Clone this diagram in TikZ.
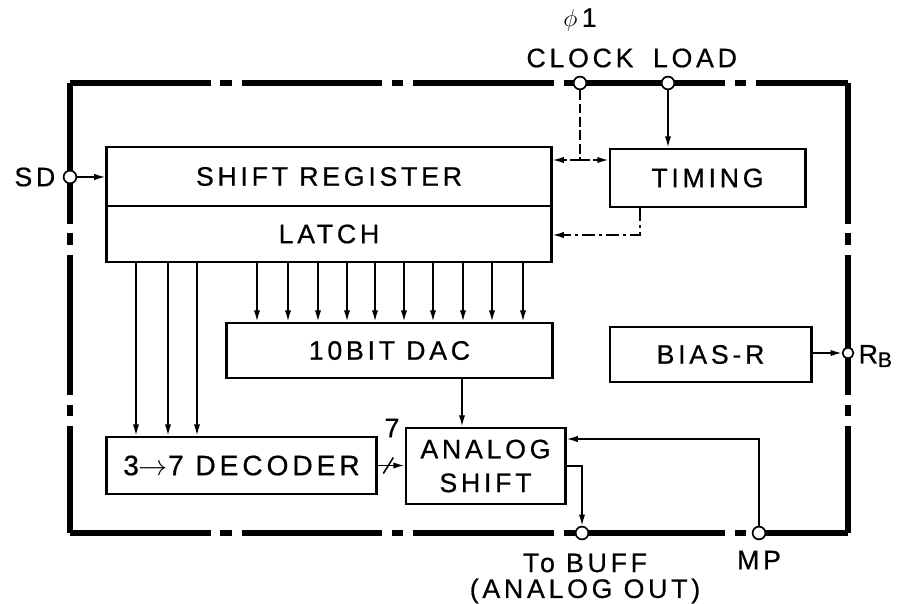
\documentclass[tikz,border=0pt]{standalone}
\usepackage{fontspec}
\setmainfont{Liberation Sans}[LetterSpace=14, FakeBold=0.6]
\usetikzlibrary{arrows.meta}
\tikzset{
    blk/.style={
        rectangle,
        draw,
        line width=2.1pt,
        align=center,
        inner sep=2pt,
        font=\fontsize{19}{22}\selectfont
    },
    pin/.style={
        circle,
        draw,
        fill=white,
        line width=1.2pt,
        inner sep=0pt,
        minimum size=0.32cm
    },
    txt/.style={font=\fontsize{19}{22}\selectfont, inner sep=1pt},
    % outline of the chip
    chipEdge/.style={line width=3.6pt, dash pattern=on 100pt off 7pt on 8pt off 7pt}
}

\begin{document}
\begin{tikzpicture}[
  x=0.025cm, y=-0.025cm,
  arr/.style={-{Latex[length=8pt,width=4.5pt]}, line width=1.1pt},
  clk/.style={arr, dash pattern=on 7pt off 2.5pt},
  ctl/.style={arr, dash pattern=on 9pt off 3pt on 2pt off 3pt}
]
\useasboundingbox (0,0) rectangle (901,604);

% ===== chip outline =====
\coordinate (tl) at (70,83);
\coordinate (tr) at (848,83);
\coordinate (bl) at (70,533);
\coordinate (br) at (848,533);
\draw[chipEdge] (tl) -- (tr);
\draw[chipEdge] (tl) -- (bl);
\draw[chipEdge] (bl) -- (br);
\draw[chipEdge] (tr) -- (br);

% ===== blocks =====
\node[blk, minimum width=11.1cm, minimum height=1.475cm] (sreg) at (329,176.5) {SHIFT REGISTER};
\node[blk, minimum width=11.1cm, minimum height=1.4cm]   (latch) at (329,234) {LATCH};
\node[blk, minimum width=4.875cm, minimum height=1.45cm] (timing) at (707.5,178) {TIMING};
\node[blk, minimum width=8.125cm, minimum height=1.375cm] (dac) at (389.5,350.5) {10BIT DAC};
\node[blk, minimum width=5.025cm, minimum height=1.375cm] (bias) at (710.5,354.5) {BIAS-R};
\node[blk, minimum width=6.725cm, minimum height=1.425cm, font=\fontsize{20}{22}\selectfont] (dec) at (241.5,465.5) {3$\rightarrow$7 DECODER};
\node[blk, minimum width=3.975cm, minimum height=1.9cm, font=\fontsize{19}{24}\selectfont] (ash) at (485.5,466) {ANALOG\\SHIFT};

% ===== pins =====
\node[pin] (clkpin)  at (580,83) {};
\node[pin] (loadpin) at (668,83) {};
\node[pin] (sdpin)   at (70,177) {};
\node[pin, minimum size=0.27cm] (rbpin) at (848,353) {};
\node[pin] (bufpin)  at (582,533) {};
\node[pin] (mppin)   at (759,533) {};

% ===== pin labels =====
\node[txt] (phi)     at (580,20) {$\phi$\,1};
\node[txt] (clklbl)  at (580,58) {CLOCK};
\node[txt] (loadlbl) at (695,58) {LOAD};
\node[txt, anchor=east] (sdlbl) at (57,177) {SD};
\node[txt, anchor=west] (rblbl) at (857,356) {R\raisebox{-2.5pt}{\fontsize{15}{15}\selectfont B}};
\node[txt] (buflbl)  at (585,563) {To BUFF};
\node[txt] (outlbl)  at (585,591) {(ANALOG OUT)};
\node[txt] (mplbl)   at (759,560) {MP};
\node[txt] (buslbl)  at (392,428) {7};

% ===== connections =====
\draw[arr] (sdpin) -- (sreg.west |- sdpin);
\draw[arr] (loadpin) -- (loadpin |- timing.north);

% clock goes to both register and timing
\coordinate (clkj) at (clkpin |- 0,160);
\draw[clk, -] (clkpin) -- (clkj);
\draw[clk] (clkj) -- (sreg.east |- clkj);
\draw[clk] (clkj) -- (timing.west |- clkj);

% timing strobes the latch
\coordinate (strb) at (timing.south -| 640,0);
\draw[ctl] (strb) |- (latch.east |- 0,235);

% latch outputs
\foreach \x in {136,168,197}
    \draw[arr] (\x,0 |- latch.south) -- (\x,0 |- dec.north);
\foreach \x in {257,288,318,347,375,404,433,463,492,523}
    \draw[arr] (\x,0 |- latch.south) -- (\x,0 |- dac.north);

\draw[arr] (462,0 |- dac.south) -- (462,0 |- ash.north);

% 7-line bus into analog shift
\draw[arr] (dec.east) -- (ash.west |- dec.east) coordinate[pos=0.4] (bus);
\draw[line width=1.1pt] ([shift={(-5,8)}]bus) -- ([shift={(5,-8)}]bus);

\draw[arr] (ash.east) -| (bufpin);
\draw[arr] (mppin) |- (ash.east |- 0,439);
\draw[arr] (bias.east |- rbpin) -- (rbpin);

\end{tikzpicture}
\end{document}
